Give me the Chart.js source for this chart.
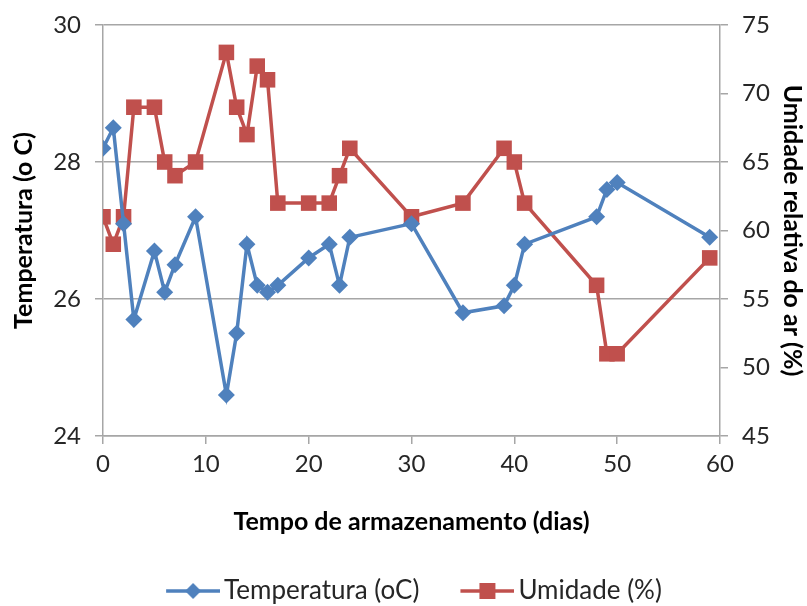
<!DOCTYPE html>
<html>
<head>
<meta charset="utf-8">
<script src="https://cdn.jsdelivr.net/npm/chart.js@4/dist/chart.umd.min.js"></script>
<style>
    html, body { margin: 0; padding: 0; background: #fff; }
    #wrap { width: 807px; height: 606px; }
</style>
</head>
<body>
<div id="wrap"><canvas id="cnvChart" width="807" height="606"></canvas></div>
<script>
/**
 * DATA
 */
const dias = [0, 1, 2, 3, 5, 6, 7, 9, 12, 13, 14, 15, 16, 17, 20, 22, 23, 24, 30, 35, 39, 40, 41, 48, 49, 50, 59];
const temperatura = [28.2, 28.5, 27.1, 25.7, 26.7, 26.1, 26.5, 27.2, 24.6, 25.5, 26.8, 26.2, 26.1, 26.2, 26.6, 26.8, 26.2, 26.9, 27.1, 25.8, 25.9, 26.2, 26.8, 27.2, 27.6, 27.7, 26.9];
const umidade = [61, 59, 61, 69, 69, 65, 64, 65, 73, 69, 67, 72, 71, 62, 62, 62, 64, 66, 61, 62, 66, 65, 62, 56, 51, 51, 58];

const xTicks = [0, 10, 20, 30, 40, 50, 60];
const tempTicks = [24, 26, 28, 30];
const umidTicks = [45, 50, 55, 60, 65, 70, 75];

const labelTemp = 'Temperatura (oC)';
const labelUmid = 'Umidade (%)';

const BLUE = '#4F81BD';
const RED = '#C0504D';
const GRAY = '#A6A6A6';
const FONT = 'Lato, "Open Sans", sans-serif';

/**
 * builds the {x,y} points from day and value arrays
 */
function MakePoints(values) {
    return dias.map((d, i) => ({ x: d, y: values[i] }));
}

/**
 * small canvas with a line and a marker, used as legend symbol
 * the symbol sits in the right part so there is room before it
 */
function LegendSymbol(color, style) {
    let c = document.createElement('canvas');
    c.width = 84;
    c.height = 20;
    let ctx = c.getContext('2d');
    let x0 = 30, x1 = 84, mid = 57;
    ctx.strokeStyle = color;
    ctx.lineWidth = 3.5;
    ctx.beginPath();
    ctx.moveTo(x0, 10);
    ctx.lineTo(x1, 10);
    ctx.stroke();
    ctx.fillStyle = color;
    if (style == 'diamond') {
        ctx.beginPath();
        ctx.moveTo(mid, 2);
        ctx.lineTo(mid + 8, 10);
        ctx.lineTo(mid, 18);
        ctx.lineTo(mid - 8, 10);
        ctx.closePath();
        ctx.fill();
    } else {
        ctx.fillRect(mid - 8, 2, 16, 16);
    }
    return c;
}

const symTemp = LegendSymbol(BLUE, 'diamond');
const symUmid = LegendSymbol(RED, 'square');

let canvas = document.querySelector('#cnvChart');
let myChart = new Chart(canvas, {
    type: 'line',
    data: {
        datasets: [{
            label: labelTemp,
            data: MakePoints(temperatura),
            yAxisID: 'yTemp',
            borderColor: BLUE,
            backgroundColor: BLUE,
            borderWidth: 3.5,
            pointStyle: 'rectRot',
            pointRadius: 8.5,
            pointHoverRadius: 8.5,
            pointBorderWidth: 0,
            tension: 0
        }, {
            label: labelUmid,
            data: MakePoints(umidade),
            yAxisID: 'yUmid',
            borderColor: RED,
            backgroundColor: RED,
            borderWidth: 3.5,
            pointStyle: 'rect',
            pointRadius: 11,
            pointHoverRadius: 11,
            pointBorderWidth: 0,
            tension: 0
        }]
    },
    options: {
        responsive: false,
        animation: false,
        devicePixelRatio: 1,
        layout: { padding: { top: 25, left: 0, right: 0, bottom: -8 } },
        plugins: {
            tooltip: { enabled: false },
            legend: {
                position: 'bottom',
                labels: {
                    usePointStyle: true,
                    pointStyleWidth: 66,
                    boxHeight: 20,
                    padding: 20,
                    color: '#262626',
                    font: { family: FONT, size: 26 },
                    generateLabels: function (chart) {
                        return [
                            { text: labelTemp, pointStyle: symTemp, fillStyle: BLUE, strokeStyle: BLUE, lineWidth: 0, datasetIndex: 0, hidden: false, fontColor: '#262626' },
                            { text: labelUmid, pointStyle: symUmid, fillStyle: RED, strokeStyle: RED, lineWidth: 0, datasetIndex: 1, hidden: false, fontColor: '#262626' }
                        ];
                    }
                }
            }
        },
        scales: {
            x: {
                type: 'linear',
                min: 0,
                max: 60,
                afterBuildTicks: function (scale) {
                    scale.ticks = xTicks.map(v => ({ value: v }));
                },
                grid: {
                    drawOnChartArea: false,
                    drawTicks: true,
                    tickLength: 8,
                    color: GRAY,
                    lineWidth: 1.5
                },
                border: { color: GRAY, width: 1.5 },
                ticks: {
                    color: '#262626',
                    font: { family: FONT, size: 24 },
                    padding: 6,
                    maxRotation: 0
                },
                title: {
                    display: true,
                    text: 'Tempo de armazenamento (dias)',
                    color: '#000',
                    font: { family: FONT, size: 25, weight: 'bold' },
                    padding: { top: 20, bottom: 21 }
                },
                afterFit: function (scale) { scale.height = 122; }
            },
            yTemp: {
                type: 'linear',
                position: 'left',
                min: 24,
                max: 30,
                afterBuildTicks: function (scale) {
                    scale.ticks = tempTicks.map(v => ({ value: v }));
                },
                grid: {
                    drawOnChartArea: true,
                    drawTicks: true,
                    tickLength: 8,
                    color: GRAY,
                    lineWidth: 1.5
                },
                border: { color: GRAY, width: 1.5 },
                ticks: {
                    color: '#262626',
                    font: { family: FONT, size: 24 },
                    padding: 14
                },
                title: {
                    display: true,
                    text: 'Temperatura (o C)',
                    color: '#000',
                    font: { family: FONT, size: 25, weight: 'bold' },
                    padding: { top: 9, bottom: 0 }
                },
                afterFit: function (scale) {
                    scale.width = 103;
                    scale.paddingTop = 0;
                }
            },
            yUmid: {
                type: 'linear',
                position: 'right',
                min: 45,
                max: 75,
                afterBuildTicks: function (scale) {
                    scale.ticks = umidTicks.map(v => ({ value: v }));
                },
                grid: {
                    drawOnChartArea: false,
                    drawTicks: true,
                    tickLength: 8,
                    color: GRAY,
                    lineWidth: 1.5
                },
                border: { color: GRAY, width: 1.5 },
                ticks: {
                    color: '#262626',
                    font: { family: FONT, size: 24 },
                    padding: 14
                },
                title: {
                    display: true,
                    text: 'Umidade relativa do ar (%)',
                    color: '#000',
                    font: { family: FONT, size: 25, weight: 'bold' },
                    padding: { top: 0, bottom: 0 }
                },
                afterFit: function (scale) {
                    scale.width = 87;
                    scale.paddingTop = 0;
                }
            }
        }
    }
});
</script>
</body>
</html>
